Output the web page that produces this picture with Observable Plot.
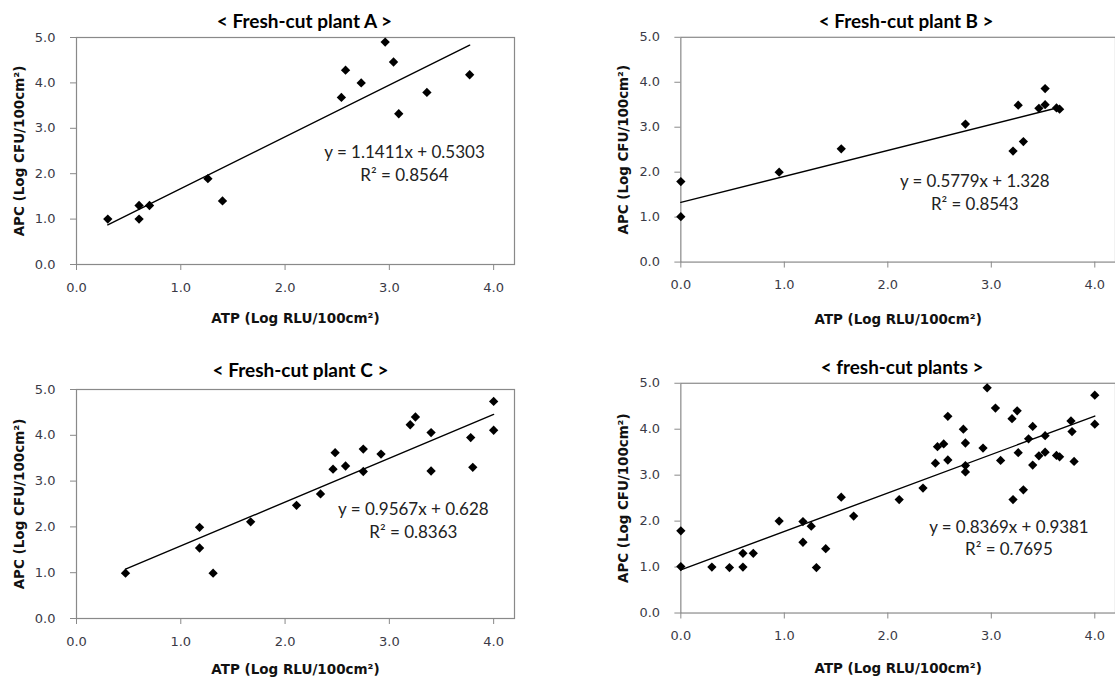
<!DOCTYPE html>
<html><head><meta charset="utf-8">
<script src="https://cdn.jsdelivr.net/npm/d3@7"></script>
<script src="https://cdn.jsdelivr.net/npm/@observablehq/plot@0.6"></script>
<style>
html,body{margin:0;padding:0;background:#fff;overflow:hidden;}
#wrap{position:relative;width:1115px;height:679px;overflow:hidden;background:#fff;}
.panel{position:absolute;}
</style></head><body><div id="wrap"></div>
<script>
// ---- data ----
const titles = ["< Fresh-cut plant A >", "< Fresh-cut plant B >", "< Fresh-cut plant C >", "< fresh-cut plants >"];
const xLabel = "ATP (Log RLU/100cm²)";
const yLabel = "APC (Log CFU/100cm²)";
const xTicks = [0, 1, 2, 3, 4];
const yTicks = [0, 1, 2, 3, 4, 5];

const atpA = [0.30, 0.60, 0.60, 0.70, 1.26, 1.40, 2.54, 2.58, 2.73, 2.96, 3.04, 3.09, 3.36, 3.77];
const apcA = [1.00, 1.00, 1.30, 1.30, 1.89, 1.40, 3.68, 4.28, 4.00, 4.90, 4.46, 3.32, 3.79, 4.18];

const atpB = [0.00, 0.00, 0.95, 1.55, 2.75, 3.21, 3.26, 3.31, 3.46, 3.52, 3.52, 3.63, 3.66];
const apcB = [1.79, 1.01, 2.00, 2.52, 3.07, 2.47, 3.49, 2.68, 3.42, 3.86, 3.50, 3.43, 3.40];

const atpC = [0.47, 1.18, 1.18, 1.31, 1.67, 2.11, 2.34, 2.46, 2.48, 2.58, 2.75, 2.75, 2.92, 3.20, 3.25, 3.40, 3.40, 3.78, 3.80, 4.00, 4.00];
const apcC = [0.99, 1.99, 1.54, 0.99, 2.11, 2.47, 2.72, 3.26, 3.62, 3.33, 3.70, 3.21, 3.59, 4.23, 4.40, 4.06, 3.22, 3.95, 3.30, 4.74, 4.11];

// all fresh-cut plants = A + B + C
const atpAll = [...atpA, ...atpB, ...atpC];
const apcAll = [...apcA, ...apcB, ...apcC];

const slopes = [1.1411, 0.5779, 0.9567, 0.8369];
const intercepts = [0.5303, 1.328, 0.628, 0.9381];
const rSquared = [0.8564, 0.8543, 0.8363, 0.7695];

// ---- layout (page pixels / label anchors) ----
const layout = [
  {left: 0,   top: 0,   width: 557, height: 340, ml: 76,  mt: 37, mr: 43, mb: 76, tdx: 9, tdy: -16, xdy: 54, eqX: 3.145, eqY: 2.25},
  {left: 557, top: 0,   width: 561, height: 340, ml: 124, mt: 37, mr: 0,  mb: 77, tdx: 8, tdy: -15, xdy: 58, eqX: 2.84,  eqY: 1.57},
  {left: 0,   top: 340, width: 557, height: 339, ml: 76,  mt: 49, mr: 43, mb: 61, tdx: 5, tdy: -19, xdy: 51, eqX: 3.23,  eqY: 2.165},
  {left: 557, top: 340, width: 561, height: 339, ml: 124, mt: 43, mr: 0,  mb: 65, tdx: 4, tdy: -15, xdy: 56, eqX: 3.17,  eqY: 1.655}
];

const series = [[atpA, apcA], [atpB, apcB], [atpC, apcC], [atpAll, apcAll]];
const gray = "#898989";
const tickText = "#3a3a46";
const wrap = document.getElementById("wrap");

series.forEach(([atp, apc], i) => {
  const L = layout[i];
  const pts = atp.map((x, j) => ({x, y: apc[j]}));
  const fit = [d3.min(atp), d3.max(atp)].map(x => ({x, y: slopes[i] * x + intercepts[i]}));
  const eq = `y = ${slopes[i]}x + ${intercepts[i]}\nR² = ${rSquared[i]}`;
  const chart = Plot.plot({
    width: L.width, height: L.height,
    marginLeft: L.ml, marginTop: L.mt, marginRight: L.mr, marginBottom: L.mb,
    style: {background: "transparent", overflow: "visible", fontFamily: "DejaVu Sans", fontSize: "13px"},
    x: {domain: [0, 4.2]},
    y: {domain: [0, 5]},
    marks: [
      Plot.frame({stroke: gray, strokeWidth: 1.2}),
      Plot.axisX(xTicks, {tickSize: 6, tickPadding: 12, tickFormat: d => d.toFixed(1), stroke: gray, fill: tickText, fontSize: 13, fontFamily: "DejaVu Sans", label: null}),
      Plot.axisY(yTicks, {tickSize: 6, tickPadding: 15, tickFormat: d => d.toFixed(1), stroke: gray, fill: tickText, fontSize: 13, fontFamily: "DejaVu Sans", label: null}),
      Plot.line(fit, {x: "x", y: "y", stroke: "#000", strokeWidth: 1.4}),
      Plot.dot(pts, {x: "x", y: "y", symbol: "diamond2", r: 4.2, fill: "#000", stroke: null}),
      Plot.text([{x: L.eqX, y: L.eqY, t: eq}], {x: "x", y: "y", text: "t", fontFamily: "Lato", fontSize: 17, lineHeight: 1.33, fill: "#222", lineAnchor: "middle"}),
      Plot.text([titles[i]], {frameAnchor: "top", dx: L.tdx, dy: L.tdy, textAnchor: "middle", lineAnchor: "middle", fontFamily: "Lato", fontWeight: "bold", fontSize: 19, fill: "#000"}),
      Plot.text([xLabel], {frameAnchor: "bottom", dy: L.xdy, textAnchor: "middle", lineAnchor: "middle", fontFamily: "DejaVu Sans", fontWeight: "bold", fontSize: 13.5, fill: "#111"}),
      Plot.text([yLabel], {frameAnchor: "left", dx: -57, rotate: -90, textAnchor: "middle", lineAnchor: "middle", fontFamily: "DejaVu Sans", fontWeight: "bold", fontSize: 13.5, fill: "#111"})
    ]
  });
  const div = document.createElement("div");
  div.className = "panel";
  div.style.left = L.left + "px";
  div.style.top = L.top + "px";
  div.appendChild(chart);
  wrap.appendChild(div);
});
</script>
</body></html>
